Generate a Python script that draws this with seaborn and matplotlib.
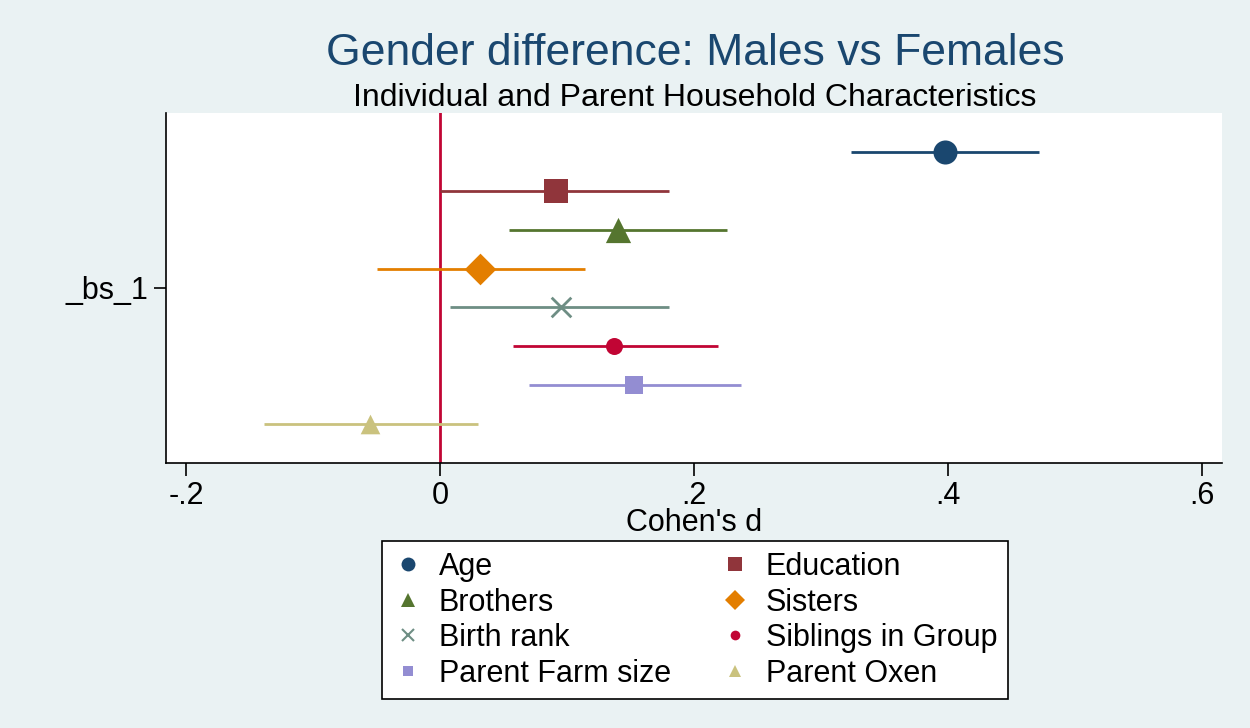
import numpy as np
import pandas as pd
import matplotlib.pyplot as plt
import seaborn as sns
from matplotlib.lines import Line2D

# estimates (Cohen's d with 95% CI)
labels = ['Age', 'Education', 'Brothers', 'Sisters', 'Birth rank',
          'Siblings in Group', 'Parent Farm size', 'Parent Oxen']
est = [0.398, 0.091, 0.140, 0.031, 0.095, 0.137, 0.153, -0.055]
lo = [0.324, 0.000, 0.054, -0.050, 0.008, 0.057, 0.070, -0.139]
hi = [0.472, 0.180, 0.226, 0.114, 0.180, 0.219, 0.237, 0.030]
xticks = [-0.2, 0, 0.2, 0.4, 0.6]
xticklabels = ['-.2', '0', '.2', '.4', '.6']

colors = ['#1a476f', '#90353b', '#55752f', '#e37e00',
          '#6e8e84', '#c10534', '#938dd2', '#cac27e']
markers = ['o', 's', '^', 'D', 'x', 'o', 's', '^']
msizes = [300, 300, 330, 260, 200, 150, 150, 200]
leg_sizes = [10, 10, 10, 10, 8, 7, 7, 8]

# stata offsets each series around the single coefficient "_bs_1"
df = pd.DataFrame({'label': labels, 'est': est, 'lo': lo, 'hi': hi})
df['y'] = 1 - (np.arange(len(labels)) - 3.5) * 0.1

plt.rcParams['font.family'] = ['Liberation Sans', 'DejaVu Sans']
bg = '#eaf2f3'
fig = plt.figure(figsize=(12.5, 7.28), dpi=100, facecolor=bg)
ax = fig.add_axes([0.1328, 0.364, 0.8448, 0.4808])
ax.set_facecolor('white')

ax.axvline(0, color='#c10534', lw=2, zorder=1)
for i, r in df.iterrows():
    ax.hlines(r['y'], r['lo'], r['hi'], color=colors[i], lw=2, zorder=2)
    sns.scatterplot(x=[r['est']], y=[r['y']], ax=ax, color=colors[i],
                    marker=markers[i], s=msizes[i], linewidth=2 if markers[i] == 'x' else 0,
                    zorder=3, legend=False)

ax.set_xlim(-0.216, 0.616)
ax.set_ylim(0.55, 1.45)
ax.set_xticks(xticks)
ax.set_xticklabels(xticklabels, fontsize=22)
ax.set_yticks([1])
ax.set_yticklabels(['_bs_1'], fontsize=22)
ax.tick_params(length=9, width=1.2, color='black', pad=4)
ax.set_xlabel("Cohen's d", fontsize=22, labelpad=-2)
ax.set_ylabel('')
for s in ['top', 'right']:
    ax.spines[s].set_visible(False)
for s in ['left', 'bottom']:
    ax.spines[s].set_linewidth(1.2)
    ax.spines[s].set_color('black')

fig.text(0.556, 0.926, 'Gender difference: Males vs Females', ha='center', va='center',
         fontsize=32, color='#1a476f')
fig.text(0.556, 0.866, 'Individual and Parent Household Characteristics', ha='center',
         va='center', fontsize=23, color='black')

# legend: stata fills rows first, matplotlib fills columns first
handles = []
for i in list(range(0, 8, 2)) + list(range(1, 8, 2)):
    handles.append(Line2D([], [], ls='none', marker=markers[i], color=colors[i],
                          markersize=leg_sizes[i], markeredgewidth=1.5 if markers[i] == 'x' else 0,
                          label=labels[i]))
leg = fig.legend(handles=handles, ncol=2, loc='center', bbox_to_anchor=(0.556, 0.148),
                 fontsize=22, frameon=True, fancybox=False, edgecolor='black',
                 framealpha=1, handlelength=1, handletextpad=0.5, columnspacing=1.6,
                 labelspacing=0.18, borderpad=0.35)
leg.get_frame().set_linewidth(1.2)

fig.savefig('out.png', dpi=100, facecolor=bg)
